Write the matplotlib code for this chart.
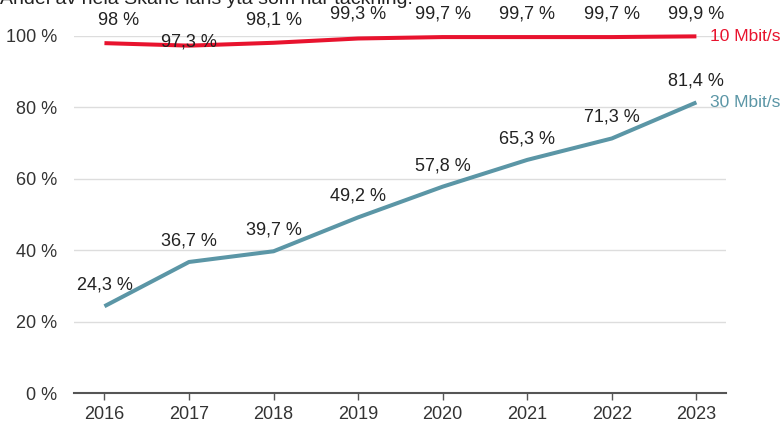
import matplotlib.pyplot as plt

plt.rcParams['font.family'] = ['Liberation Sans', 'DejaVu Sans']

years = [2016, 2017, 2018, 2019, 2020, 2021, 2022, 2023]
mbit10 = [98.0, 97.3, 98.1, 99.3, 99.7, 99.7, 99.7, 99.9]
mbit30 = [24.3, 36.7, 39.7, 49.2, 57.8, 65.3, 71.3, 81.4]
labels10 = ['98 %', '97,3 %', '98,1 %', '99,3 %', '99,7 %', '99,7 %', '99,7 %', '99,9 %']
labels30 = ['24,3 %', '36,7 %', '39,7 %', '49,2 %', '57,8 %', '65,3 %', '71,3 %', '81,4 %']
yticks = [0, 20, 40, 60, 80, 100]

red = '#e8132e'
teal = '#5b96a6'

fig = plt.figure(figsize=(7.82, 4.23), dpi=100)
ax = fig.add_axes([74/782, 30/423, 652/782, 357/423])

ax.plot(years, mbit10, color=red, lw=2.9, solid_capstyle='butt', clip_on=False, zorder=3)
ax.plot(years, mbit30, color=teal, lw=2.9, solid_capstyle='butt', clip_on=False, zorder=3)

# data labels (pixel offsets)
off10 = [(14, 23), (0, 4), (0, 23), (0, 24), (0, 23), (0, 23), (0, 23), (0, 22)]
for x, y, s, o in zip(years, mbit10, labels10, off10):
    ax.annotate(s, (x, y), xytext=o, textcoords='offset pixels', ha='center', va='center',
                fontsize=13, color='#222222', annotation_clip=False)
for x, y, s in zip(years, mbit30, labels30):
    ax.annotate(s, (x, y), xytext=(0, 21), textcoords='offset pixels', ha='center', va='center',
                fontsize=13, color='#222222', annotation_clip=False)

ax.annotate('10 Mbit/s', (years[-1], mbit10[-1]), xytext=(14, 0), textcoords='offset pixels',
            ha='left', va='center', fontsize=12.5, color=red, annotation_clip=False)
ax.annotate('30 Mbit/s', (years[-1], mbit30[-1]), xytext=(14, 0), textcoords='offset pixels',
            ha='left', va='center', fontsize=12.5, color=teal, annotation_clip=False)

ax.set_xlim(2015.64, 2023.35)
ax.set_ylim(0, 100)
ax.set_xticks(years)
ax.set_yticks(yticks)
ax.set_yticklabels([f'{v} %' for v in yticks])
ax.tick_params(axis='y', length=0, pad=12, labelsize=13, labelcolor='#333333')
ax.tick_params(axis='x', length=5, width=1, color='#555555', pad=4, labelsize=13, labelcolor='#333333')
ax.grid(axis='y', color='#dddddd', lw=1)
ax.set_axisbelow(True)
for s in ['top', 'right', 'left']:
    ax.spines[s].set_visible(False)
ax.spines['bottom'].set_color('#555555')
ax.spines['bottom'].set_linewidth(1.5)

fig.text(0.0, 1.0 + 2/423, 'Andel av hela Skåne läns yta som har täckning.', ha='left', va='center',
         fontsize=14, color='#222222')

fig.savefig('out.png', dpi=100)
